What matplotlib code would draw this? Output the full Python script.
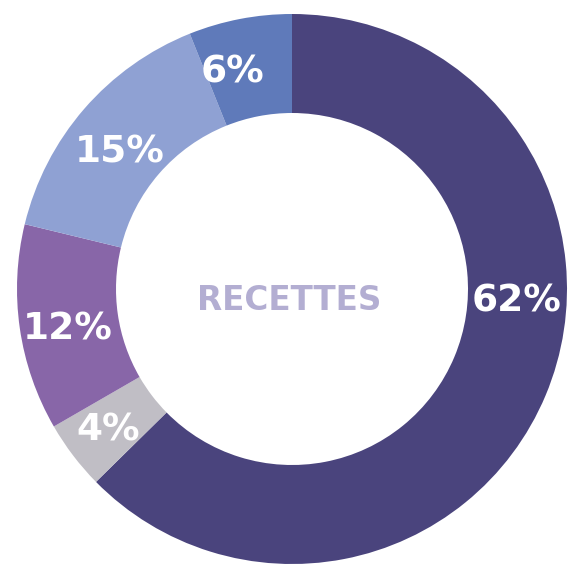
import matplotlib
matplotlib.use("Agg")
import matplotlib.pyplot as plt

labels = ["62%", "4%", "12%", "15%", "6%"]
values = [62, 4, 12, 15, 6]
colors = ["#4a447d", "#c0bec5", "#8866a8", "#8fa1d3", "#5f7aba"]
center_title = "RECETTES"

# label positions (in units of outer radius)
label_pos = [(0.815, -0.047), (-0.669, -0.513), (-0.815, -0.149), (-0.625, 0.498), (-0.215, 0.789)]

W, H = 569, 564
cx, cy, R = 292, 289, 275
fig = plt.figure(figsize=(W / 100, H / 100), dpi=100)
ax = fig.add_axes([0, 0, 1, 1])
ax.pie(values, colors=colors, startangle=90, counterclock=False, radius=1.0,
       wedgeprops=dict(width=(275 - 176) / 275, linewidth=0))
ax.set_aspect("auto")
ax.set_xlim(-cx / R, (W - cx) / R)
ax.set_ylim((cy - H) / R, cy / R)
ax.axis("off")

for lab, (x, y) in zip(labels, label_pos):
    ax.text(x, y, lab, color="white", fontsize=27, fontweight="bold",
            family=["DejaVu Sans"], ha="center", va="center")

ax.text(-0.011, -0.04, center_title, color="#b3aed2", fontsize=23.5, fontweight="bold",
        family=["DejaVu Sans"], ha="center", va="center")

fig.savefig("out.png", dpi=100)
